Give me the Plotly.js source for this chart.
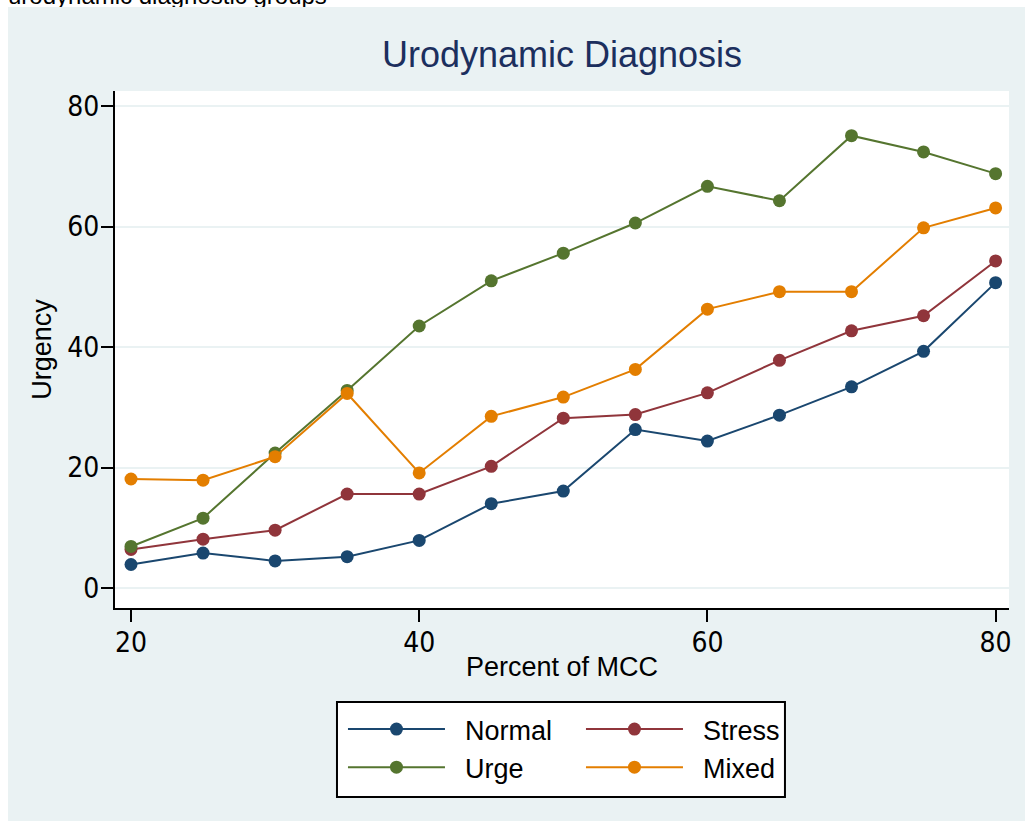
<!DOCTYPE html>
<html>
<head>
<meta charset="utf-8">
<script src="https://cdn.plot.ly/plotly-3.0.1.min.js"></script>
<style>
  html, body { margin: 0; padding: 0; background: #ffffff; width: 1025px; height: 821px; overflow: hidden; }
  #caption { position: absolute; left: 8px; top: -16px; font-family: "Liberation Sans", Arial, sans-serif; font-size: 24px; line-height: 24px; color: #000; white-space: nowrap; z-index: 0; }
  #chart { position: absolute; left: 8px; top: 7px; width: 1017px; height: 814px; z-index: 1; }
</style>
</head>
<body>
<div id="caption">urodynamic diagnostic groups</div>
<div id="chart"></div>
<script>
// Data
const percentMCC = [20, 25, 30, 35, 40, 45, 50, 55, 60, 65, 70, 75, 80];
const normal = [3.9, 5.8, 4.5, 5.2, 7.9, 14.0, 16.1, 26.3, 24.4, 28.7, 33.4, 39.3, 50.7];
const stress = [6.4, 8.1, 9.6, 15.6, 15.6, 20.2, 28.2, 28.8, 32.4, 37.8, 42.7, 45.2, 54.3];
const urge   = [6.9, 11.6, 22.4, 32.8, 43.5, 51.0, 55.6, 60.6, 66.7, 64.3, 75.1, 72.4, 68.8];
const mixed  = [18.1, 17.9, 21.8, 32.3, 19.1, 28.5, 31.7, 36.3, 46.3, 49.2, 49.2, 59.8, 63.1];
const seriesNames = ["Normal", "Stress", "Urge", "Mixed"];
const yTicks = [0, 20, 40, 60, 80];
const xTicks = [20, 40, 60, 80];

const colors = ["#1a476f", "#90353b", "#55752f", "#e37e00"];
const groups = ["g1", "g2", "g1", "g2"];
const values = [normal, stress, urge, mixed];

const traces = values.map((v, i) => ({
  x: percentMCC,
  y: v,
  name: "\u00a0\u00a0" + seriesNames[i],
  type: "scatter",
  mode: "lines+markers",
  legendgroup: groups[i],
  line: { color: colors[i], width: 2 },
  marker: { color: colors[i], size: 13, symbol: "circle" }
}));

const tickFont = { family: "DejaVu Sans Condensed, Liberation Sans Narrow, sans-serif", size: 28, color: "#000" };
const txtFont = { family: "Liberation Sans, Arial, sans-serif", size: 27, color: "#000" };

const layout = {
  width: 1017,
  height: 814,
  paper_bgcolor: "#eaf2f3",
  plot_bgcolor: "#ffffff",
  margin: { l: 107, r: 16, t: 84, b: 213, pad: 0 },
  title: {
    text: "Urodynamic Diagnosis",
    font: { family: "Liberation Sans, Arial, sans-serif", size: 36, color: "#1c2f5e" },
    x: 0.5, xref: "paper", xanchor: "center",
    y: 1 - 47 / 814, yref: "container", yanchor: "middle"
  },
  xaxis: {
    range: [18.89, 80.93],
    tickvals: xTicks,
    ticktext: xTicks.map(String),
    ticks: "outside", ticklen: 12, tickwidth: 2, tickcolor: "#000",
    ticklabelstandoff: -4,
    showline: true, linecolor: "#000", linewidth: 2,
    showgrid: false, zeroline: false,
    tickfont: tickFont,
    title: { text: "Percent of MCC", font: txtFont, standoff: 0 },
    automargin: false
  },
  yaxis: {
    range: [-3.32, 82.52],
    tickvals: yTicks,
    ticktext: yTicks.map(String),
    ticks: "outside", ticklen: 12, tickwidth: 2, tickcolor: "#000",
    ticklabelstandoff: -4,
    showline: true, linecolor: "#000", linewidth: 2,
    showgrid: true, gridcolor: "#eaf2f3", gridwidth: 2,
    zeroline: false,
    tickfont: tickFont,
    title: { text: "Urgency", font: txtFont, standoff: 8 },
    automargin: false
  },
  shapes: [{
    type: "rect", xref: "paper", yref: "paper",
    x0: 0.2483, x1: 0.7494, y0: -0.3656, y1: -0.1818,
    line: { color: "#000", width: 2 },
    fillcolor: "#ffffff",
    layer: "above"
  }],
  showlegend: true,
  legend: {
    orientation: "h",
    traceorder: "grouped",
    x: 0.2550, xanchor: "left",
    y: -0.1876, yanchor: "top",
    bgcolor: "rgba(0,0,0,0)",
    borderwidth: 0,
    font: txtFont,
    itemwidth: 97,
    entrywidth: 126,
    tracegroupgap: 0,
    itemclick: false, itemdoubleclick: false
  }
};

Plotly.newPlot("chart", traces, layout, { displayModeBar: false, staticPlot: true });
</script>
</body>
</html>
